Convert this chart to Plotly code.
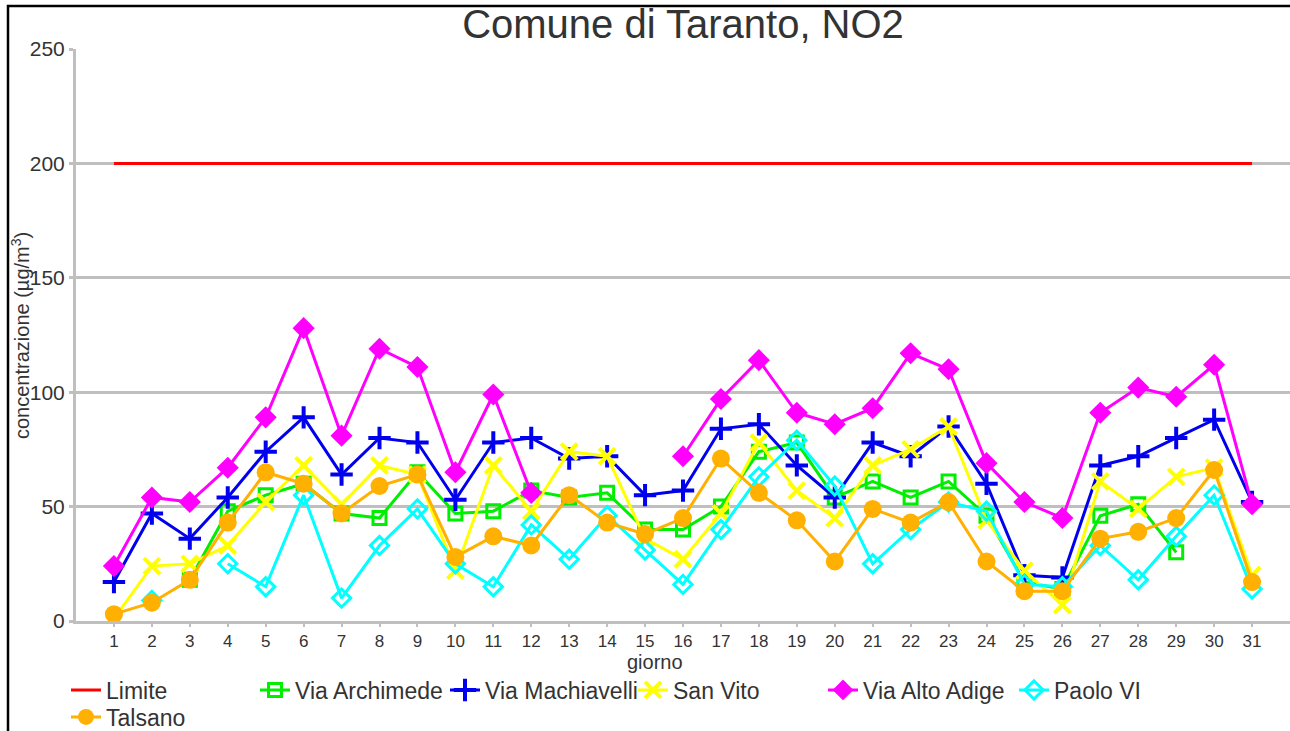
import plotly.graph_objects as go

# Daily NO2 concentrations, Comune di Taranto (µg/m³)
giorni = list(range(1, 32))

limite = [200] * 31

via_archimede = [None, None, 18, 48, 55, 60, 47, 45, 65, 47, 48, 57, 54, 56, 40, 40,
                 50, 74, 78, 54, 61, 54, 61, 46, 17, 14, 46, 51, 30, None, None]

via_machiavelli = [17, 47, 36, 54, 74, 89, 64, 80, 78, 53, 78, 80, 71, 72, 55, 57,
                   84, 86, 68, 54, 78, 72, 85, 60, 20, 19, 68, 72, 80, 88, 52]

san_vito = [1, 24, 25, 33, 52, 68, 51, 68, 64, 22, 68, 48, 74, 72, 36, 27,
            47, 78, 57, 45, 68, 75, 85, 44, 22, 7, 61, 49, 63, 67, 20]

via_alto_adige = [24, 54, 52, 67, 89, 128, 81, 119, 111, 65, 99, 56, None, None, None, 72,
                  97, 114, 91, 86, 93, 117, 110, 69, 52, 45, 91, 102, 98, 112, 51]

paolo_vi = [None, 9, None, 25, 15, 55, 10, 33, 49, 25, 15, 42, 27, 46, 31, 16,
            40, 63, 79, 59, 25, 40, 52, 48, 16, 15, 33, 18, 37, 55, 14]

talsano = [3, 8, 18, 43, 65, 60, 47, 59, 64, 28, 37, 33, 55, 43, 38, 45,
           71, 56, 44, 26, 49, 43, 52, 26, 13, 13, 36, 39, 45, 66, 17]

# Plot area geometry in pixels
W, H = 1290, 731
ML, MR, MT, MB = 76, 0, 49, 110
PW, PH = W - ML - MR, H - MT - MB


def px_x(p):
    return (p - ML) / PW


def px_y(p):
    return (H - MB - p) / PH


FONT = "Liberation Sans, Arial, sans-serif"
TXT = "#333333"
GRID = "#BFBFBF"

series = [
    ("Limite", limite, "#FF0000", dict(size=1, opacity=0), "lines"),
    ("Via Archimede", via_archimede, "#00EE00",
     dict(symbol="square-open", size=13, line=dict(width=3, color="#00EE00")), "lines+markers"),
    ("Via Machiavelli", via_machiavelli, "#0000EE",
     dict(symbol="cross-thin", size=16, line=dict(width=4, color="#0000EE")), "lines+markers"),
    ("San Vito", san_vito, "#FFFF00",
     dict(symbol="x-thin", size=16, line=dict(width=4, color="#FFFF00")), "lines+markers"),
    ("Via Alto Adige", via_alto_adige, "#FF00FF",
     dict(symbol="diamond", size=17, line=dict(width=0)), "lines+markers"),
    ("Paolo VI", paolo_vi, "#00FFFF",
     dict(symbol="diamond-open", size=14, line=dict(width=3, color="#00FFFF")), "lines+markers"),
    ("Talsano", talsano, "#FFB000",
     dict(symbol="circle", size=18, line=dict(width=0)), "lines+markers"),
]

# Legend entries: (text start x, row centre y) in pixels
legend_pos = [(106, 690), (295, 690), (485, 690), (673, 690), (863, 690), (1054, 690), (106, 717)]

fig = go.Figure()
layout_legends = {}
for i, ((name, vals, color, marker, mode), (tx, ty)) in enumerate(zip(series, legend_pos)):
    key = "legend" if i == 0 else f"legend{i + 1}"
    fig.add_trace(go.Scatter(
        x=giorni, y=vals, name=name, mode=mode,
        line=dict(color=color, width=3),
        marker=dict(color=color, **marker),
        connectgaps=False,
        legend=key,
    ))
    layout_legends[key] = dict(
        x=px_x(tx - 40), y=px_y(ty), xanchor="left", yanchor="middle",
        xref="paper", yref="paper",
        font=dict(family=FONT, size=23, color=TXT),
        bgcolor="rgba(0,0,0,0)", borderwidth=0, itemwidth=30,
        tracegroupgap=0,
    )

fig.update_layout(
    width=W, height=H,
    margin=dict(l=ML, r=MR, t=MT, b=MB, autoexpand=False),
    paper_bgcolor="white", plot_bgcolor="white",
    showlegend=True,
    title=dict(
        text="Comune di Taranto, NO2",
        x=px_x(683), xref="paper", xanchor="center",
        y=1 - 24 / H, yref="container", yanchor="middle",
        font=dict(family=FONT, size=40, color=TXT),
    ),
    xaxis=dict(
        range=[0, 32], tickmode="array", tickvals=giorni, ticktext=[str(g) for g in giorni],
        showgrid=False, showline=True, linecolor=GRID, linewidth=3,
        ticks="outside", ticklen=3, tickcolor=GRID, tickwidth=2,
        tickfont=dict(family=FONT, size=17, color=TXT),
        zeroline=False, automargin=False,
    ),
    yaxis=dict(
        range=[0, 250], tickvals=[0, 50, 100, 150, 200, 250],
        showgrid=True, gridcolor=GRID, gridwidth=3,
        showline=True, linecolor=GRID, linewidth=3,
        ticks="outside", ticklen=4, tickcolor=GRID, tickwidth=3,
        tickfont=dict(family=FONT, size=21, color=TXT),
        zeroline=False, automargin=False,
    ),
    annotations=[
        dict(text="giorno", x=px_x(655), y=px_y(662), xref="paper", yref="paper",
             xanchor="center", yanchor="middle", showarrow=False,
             font=dict(family=FONT, size=20, color=TXT)),
        dict(text="concentrazione (µg/m<sup>3</sup>)", textangle=-90,
             x=px_x(20), y=px_y(336), xref="paper", yref="paper",
             xanchor="center", yanchor="middle", showarrow=False,
             font=dict(family=FONT, size=20, color=TXT)),
    ],
    **layout_legends,
)

# Outer frame around the chart
fig.add_shape(
    type="rect", xref="paper", yref="paper",
    x0=px_x(8), x1=px_x(1296), y0=px_y(742), y1=px_y(6),
    line=dict(color="black", width=2.5), fillcolor="rgba(0,0,0,0)", layer="above",
)

fig.write_html("out.html")
